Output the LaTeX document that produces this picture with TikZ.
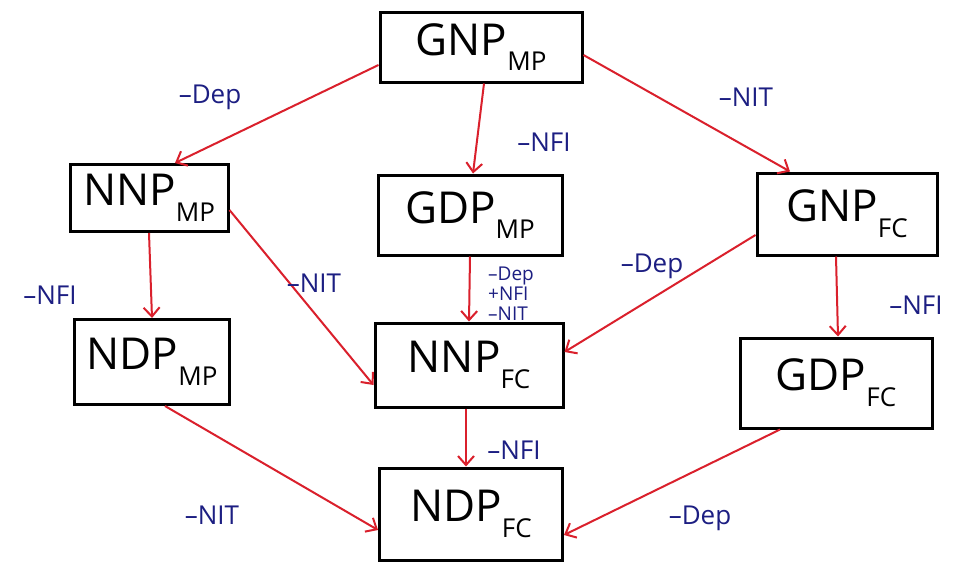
\documentclass[tikz,border=0pt]{standalone}
\usepackage{fontspec}
\setmainfont{Open Sans}
\usetikzlibrary{arrows.meta}
\definecolor{penred}{RGB}{218,32,44}
\definecolor{penblue}{RGB}{28,30,130}
\newcommand{\sbx}[1]{\raisebox{-0.36em}{\fontsize{26}{28}\selectfont #1}}
\tikzset{
  box/.style={draw=black, line width=3pt, rectangle, inner sep=0pt,
    font=\fontsize{44}{48}\selectfont, text=black},
  conn/.style={draw=penred, line width=2pt,
    -{Straight Barb[length=9pt,width=16pt,line width=2pt]}},
  lbl/.style={text=penblue, font=\fontsize{26}{28}\selectfont, inner sep=0pt}
}
\begin{document}
\begin{tikzpicture}[x=1pt,y=-1pt]
\useasboundingbox[fill=white] (0,0) rectangle (969,574);

% boxes
\node[box, minimum width=202, minimum height=70] (gnpmp) at (481,47) {GNP\sbx{MP}};
\node[box, minimum width=158, minimum height=67] (nnpmp) at (149,198) {NNP\sbx{MP}};
\node[box, minimum width=184, minimum height=80] (gdpmp) at (470,215) {GDP\sbx{MP}};
\node[box, minimum width=180, minimum height=82] (gnpfc) at (847,214) {GNP\sbx{FC}};
\node[box, minimum width=155, minimum height=85] (ndpmp) at (152,362) {NDP\sbx{MP}};
\node[box, minimum width=188, minimum height=84] (nnpfc) at (469,365) {NNP\sbx{FC}};
\node[box, minimum width=192, minimum height=90] (gdpfc) at (836,383) {GDP\sbx{FC}};
\node[box, minimum width=183, minimum height=92] (ndpfc) at (471,514) {NDP\sbx{FC}};

% connectors
\draw[conn] ([yshift=-18pt]gnpmp.west) -- ([xshift=26pt]nnpmp.north);
\draw[conn] ([xshift=3pt]gnpmp.south) -- ([xshift=3pt]gdpmp.north);
\draw[conn] ([yshift=-8pt]gnpmp.east) -- ([xshift=-57pt]gnpfc.north);
\draw[conn] (nnpmp.south) -- (ndpmp.north);
\draw[conn] ([yshift=-12pt]nnpmp.east) -- ([yshift=-20pt]nnpfc.west);
\draw[conn] (gdpmp.south) -- (nnpfc.north);
\draw[conn] ([yshift=-21pt]gnpfc.west) -- ([yshift=13pt]nnpfc.east);
\draw[conn] ([xshift=-11pt]gnpfc.south) -- ([xshift=2pt]gdpfc.north);
\draw[conn] ([xshift=13pt]ndpmp.south) -- ([yshift=-16pt]ndpfc.west);
\draw[conn] ([xshift=-3pt]nnpfc.south) -- ([xshift=-5pt]ndpfc.north);
\draw[conn] ([xshift=-56pt]gdpfc.south) -- ([yshift=-21pt]ndpfc.east);

% labels
\node[lbl] (l1) at (210,97) {–Dep};
\node[lbl] (l2) at (544,142) {–NFI};
\node[lbl] (l3) at (746,97) {–NIT};
\node[lbl] (l4) at (50,295) {–NFI};
\node[lbl] (l5) at (314,283) {–NIT};
\node[lbl, font=\fontsize{19}{20}\selectfont, align=left] (l6) at (511,294) {–Dep\\+NFI\\–NIT};
\node[lbl] (l7) at (652,266) {–Dep};
\node[lbl] (l8) at (916,305) {–NFI};
\node[lbl] (l9) at (212,515) {–NIT};
\node[lbl] (l10) at (514,450) {–NFI};
\node[lbl] (l11) at (700,518) {–Dep};
\end{tikzpicture}
\end{document}
